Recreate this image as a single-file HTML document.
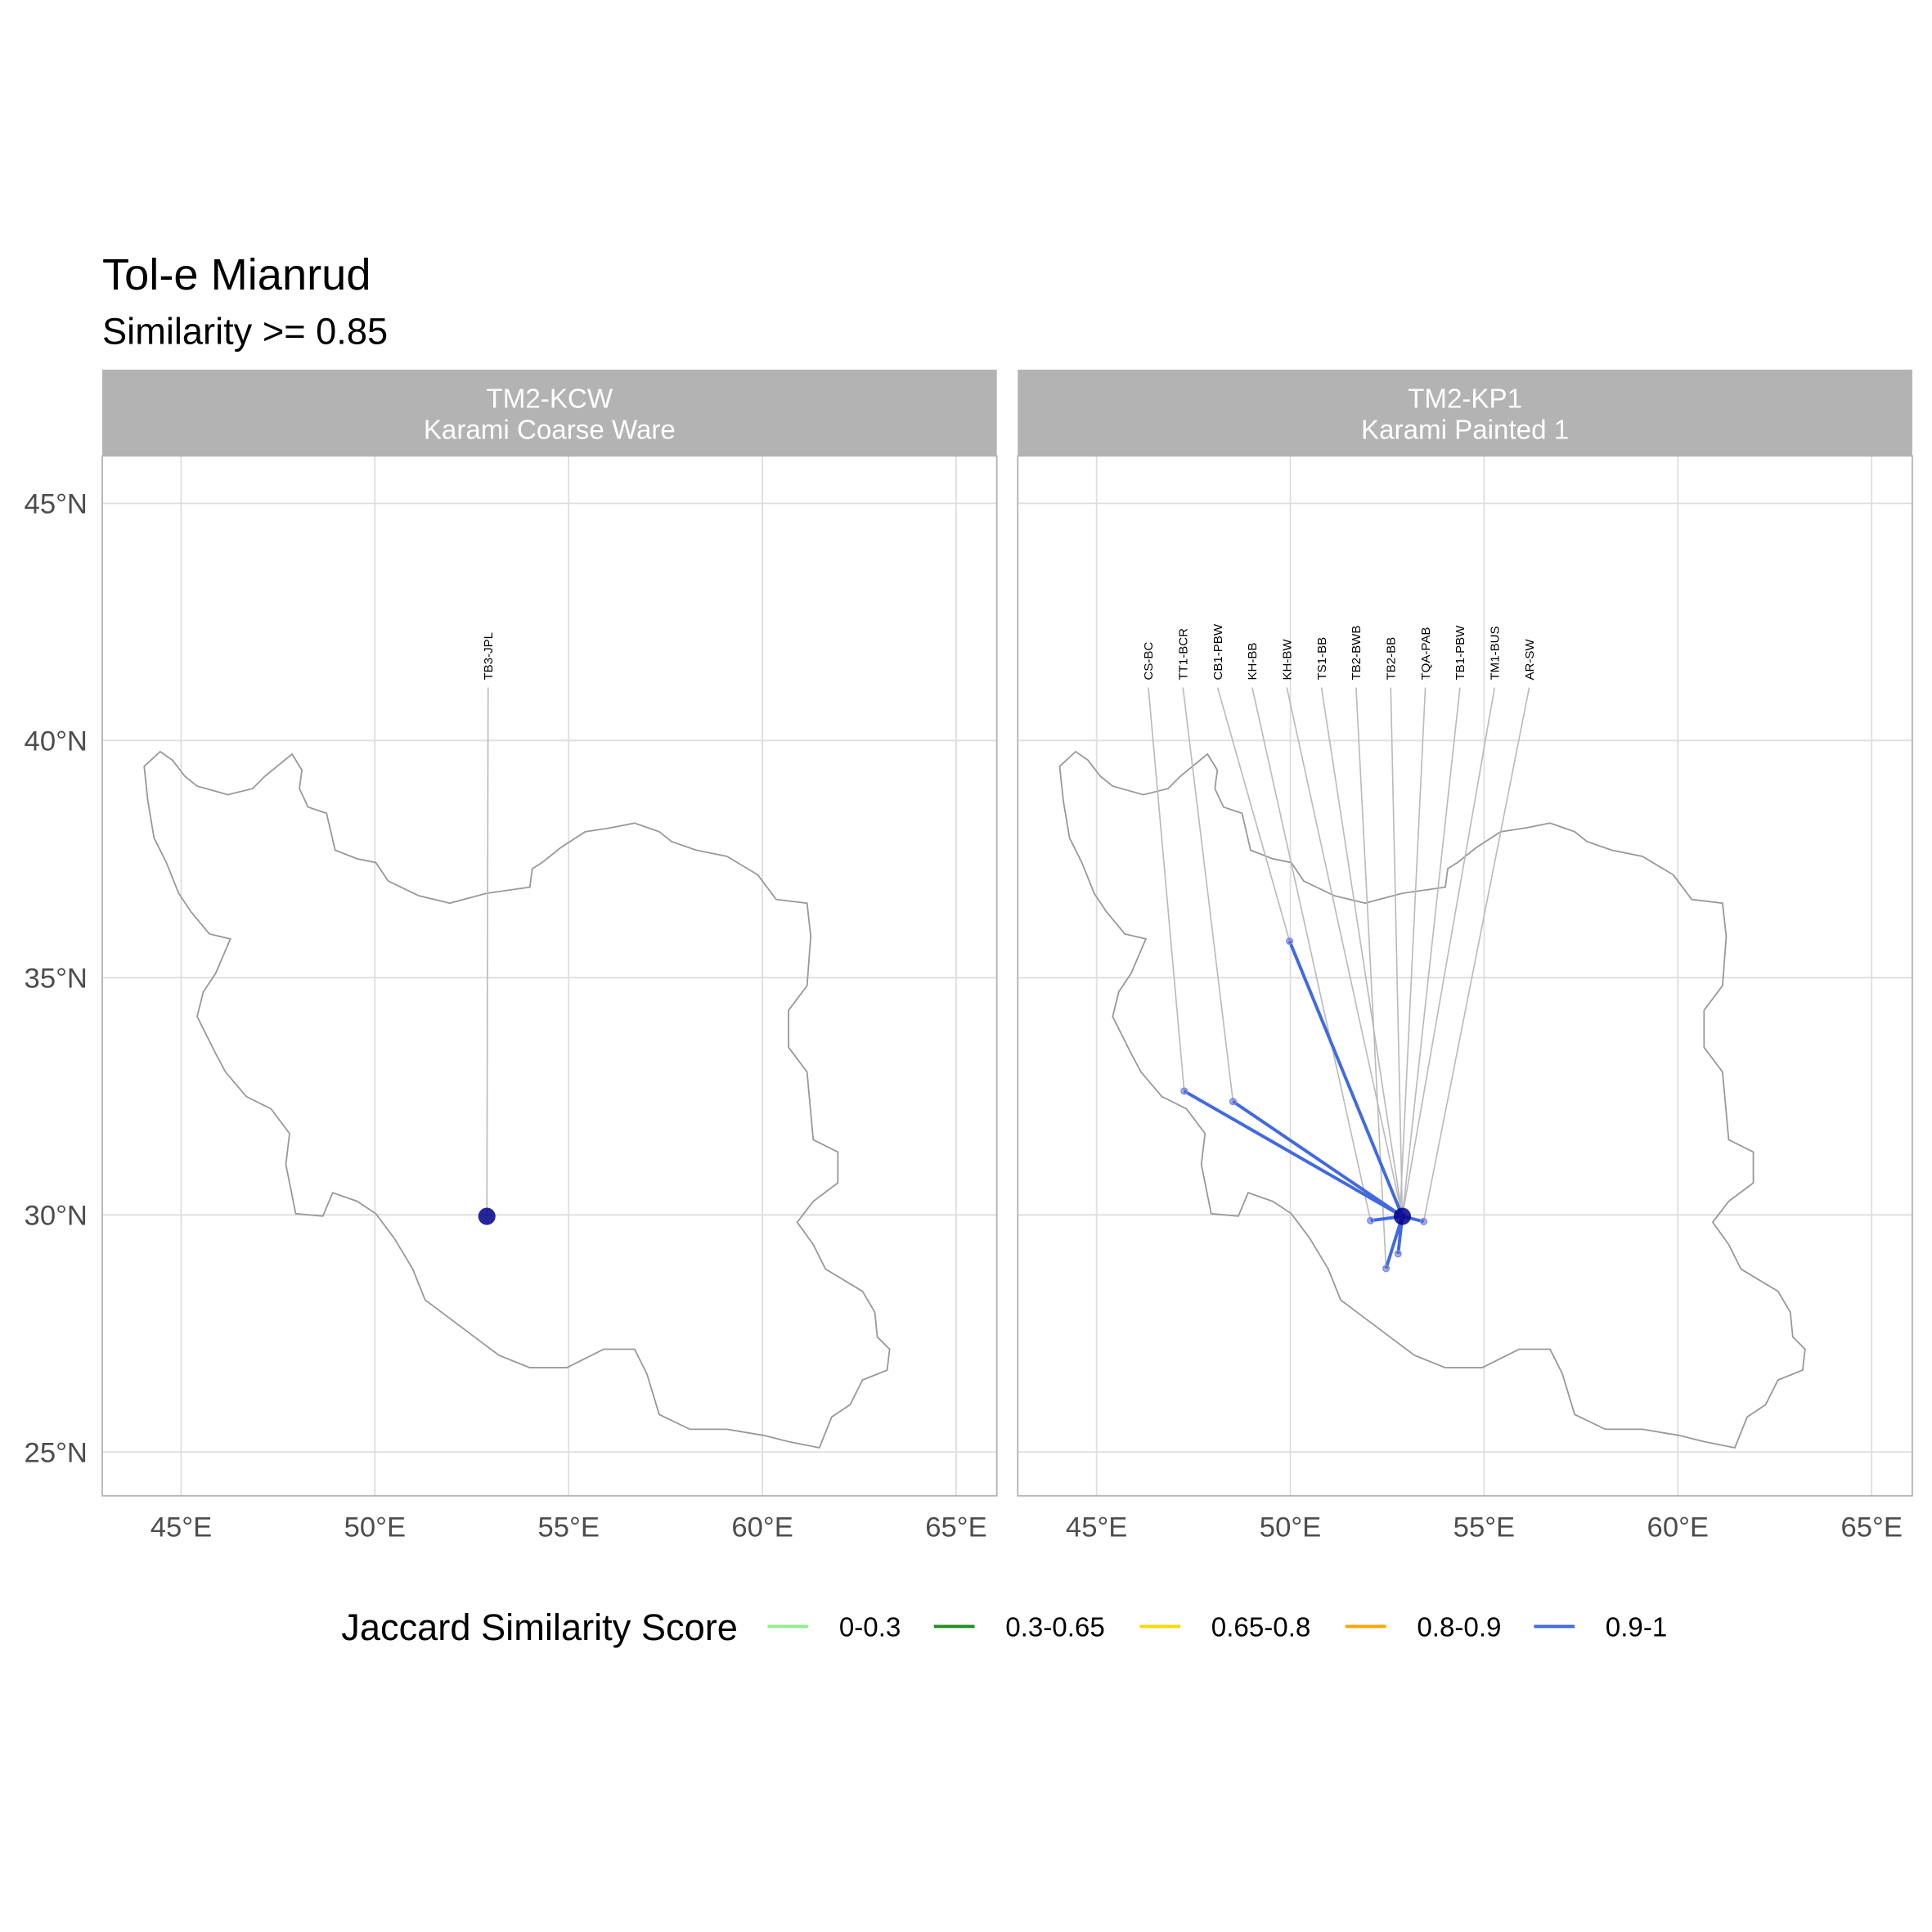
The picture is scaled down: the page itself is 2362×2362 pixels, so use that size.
<!DOCTYPE html>
<html><head><meta charset="utf-8"><style>
html,body{margin:0;padding:0;background:#fff}
svg{display:block;font-family:"Liberation Sans",sans-serif}
</style></head><body>
<svg id="chart" width="2362" height="2362" viewBox="0 0 1568 1568" xmlns="http://www.w3.org/2000/svg">
<rect width="1568" height="1568" fill="#fff"/>
<text x="83" y="235" font-size="36" fill="#000">Tol-e Mianrud</text>
<text x="83" y="279" font-size="30" fill="#000">Similarity &gt;= 0.85</text>
<g id="panels"></g>
<g>
<text x="277" y="1331" font-size="30" fill="#000">Jaccard Similarity Score</text>
<g id="legend-keys"></g>
</g>
</svg>
<script>
const lonTicks=[45,50,55,60,65];
const latTicks=[25,30,35,40,45];
const lonLabels=["45°E","50°E","55°E","60°E","65°E"];
const latLabels=["25°N","30°N","35°N","40°N","45°N"];
const panelCodes=["TM2-KCW","TM2-KP1"];
const panelNames=["Karami Coarse Ware","Karami Painted 1"];
const focalLon=52.89, focalLat=29.97;
// panel 1 sites
const p1Labels=["TB3-JPL"];
const p1Lon=[52.89];
const p1Lat=[29.97];
// panel 2 sites
const p2Labels=["CS-BC","TT1-BCR","CB1-PBW","KH-BB","KH-BW","TS1-BB","TB2-BWB","TB2-BB","TQA-PAB","TB1-PBW","TM1-BUS","AR-SW"];
const p2Lon=[47.26,48.52,49.98,52.07,52.89,52.89,52.47,52.89,52.78,52.89,52.89,53.44];
const p2Lat=[32.61,32.39,35.77,29.88,29.97,29.97,28.87,29.97,29.18,29.97,29.97,29.86];
const legendLabels=["0-0.3","0.3-0.65","0.65-0.8","0.8-0.9","0.9-1"];
const legendColors=["#90EE90","#228B22","#FFD700","#FFA500","#4169E1"];

const NS="http://www.w3.org/2000/svg";
function mk(tag,attrs,parent){const e=document.createElementNS(NS,tag);for(const k in attrs)e.setAttribute(k,attrs[k]);parent.appendChild(e);return e;}
const outline="M117,622 L130,610 L140,617 L150,630 L160,638 L185,645 L205,640 L215,630 L237,612 L245,625 L243,640 L250,655 L265,660 L272,690 L290,697 L305,700 L315,715 L340,727 L365,733 L395,725 L430,720 L432,705 L440,700 L455,688 L475,675 L495,672 L515,668 L535,675 L545,683 L565,690 L590,695 L615,710 L630,730 L655,733 L658,760 L655,800 L640,820 L640,850 L655,870 L660,925 L680,935 L680,960 L660,975 L647,992 L660,1010 L670,1030 L700,1048 L710,1065 L712,1085 L722,1095 L720,1112 L700,1120 L690,1140 L675,1150 L665,1175 L640,1170 L620,1165 L590,1160 L560,1160 L535,1148 L525,1115 L515,1095 L490,1095 L460,1110 L430,1110 L405,1100 L385,1085 L365,1070 L345,1055 L335,1030 L320,1005 L305,985 L290,975 L270,968 L262,987 L240,985 L232,945 L235,920 L220,900 L200,890 L183,870 L175,855 L160,825 L165,805 L175,790 L187,762 L170,758 L155,740 L145,725 L135,700 L125,680 L120,650 Z";
const panels=document.getElementById('panels');
const panelX=[83,826], panelW=726, panelTop=370, panelBottom=1214;
function yScale(lat){return 986-(lat-30)*38.5;}
for(let p=0;p<2;p++){
  const ox=panelX[p];
  const xScale=lon=>ox+64+(lon-45)*31.45;
  const g=mk('g',{},panels);
  
  
  const strip=mk('rect',{x:ox,y:300,width:panelW,height:70,fill:'#b3b3b3'},g);
  
  
  const t1=mk('text',{x:ox+panelW/2,y:331,'font-size':22,fill:'#fff','text-anchor':'middle'},g);t1.textContent=panelCodes[p];
  
  
  const t2=mk('text',{x:ox+panelW/2,y:356,'font-size':22,fill:'#fff','text-anchor':'middle'},g);t2.textContent=panelNames[p];
  
  
  lonTicks.forEach((v,i)=>{const x=xScale(v);
    const l=mk('line',{x1:x,x2:x,y1:panelTop,y2:panelBottom,stroke:'#dedede','stroke-width':1.2},g);
    
    
    const tl=mk('text',{x:x,y:1247,'font-size':23,fill:'#4d4d4d','text-anchor':'middle'},g);tl.textContent=lonLabels[i];
    
    });
  latTicks.forEach((v,i)=>{const y=yScale(v);
    const l=mk('line',{x1:ox,x2:ox+panelW,y1:y,y2:y,stroke:'#dedede','stroke-width':1.2},g);
    
    
    if(p===0){const tl=mk('text',{x:71,y:y+8,'font-size':23,fill:'#4d4d4d','text-anchor':'end'},g);tl.textContent=latLabels[i];
      
      }});
  const border=mk('rect',{x:ox,y:panelTop,width:panelW,height:panelBottom-panelTop,fill:'none',stroke:'#b3b3b3','stroke-width':1.2},g);
  
  
  const map=mk('path',{d:outline,fill:'none',stroke:'#999','stroke-width':1.2,transform:'translate('+(ox-83)+',0)'},g);
  
  
  const labels=p===0?p1Labels:p2Labels, lons=p===0?p1Lon:p2Lon, lats=p===0?p1Lat:p2Lat;
  const n=labels.length;
  const fx=xScale(focalLon), fy=yScale(focalLat);
  for(let i=0;i<n;i++){
    const lx=p===0?xScale(focalLon)+1:ox+106+i*28.1;
    const px=xScale(lons[i]), py=yScale(lats[i]);
    const ln=mk('line',{x1:lx,y1:558,x2:px,y2:py,stroke:'#bbb','stroke-width':1.1},g);
    
    
    const tx=mk('text',{x:lx+3.5,y:552,'font-size':10,fill:'#000','text-anchor':'start',transform:'rotate(-90 '+(lx+3.5)+' 552)'},g);
    tx.textContent=labels[i];
    
    
  }
  for(let i=0;i<n;i++){
    const px=xScale(lons[i]), py=yScale(lats[i]);
    if(p===1){
      const e=mk('line',{x1:fx,y1:fy,x2:px,y2:py,stroke:'#4169E1','stroke-width':2.6},g);
      
      
      const c=mk('circle',{cx:px,cy:py,r:2.5,fill:'#4169E1','fill-opacity':0.5,stroke:'#8888dd','stroke-width':1},g);
      
      
    }
  }
  const f=mk('circle',{cx:fx,cy:fy,r:7,fill:'#00008B','fill-opacity':0.85},g);
  
  
}
const lk=document.getElementById('legend-keys');
const keyX=[623,758,925,1092,1245];
legendLabels.forEach((lab,i)=>{
  const l=mk('line',{x1:keyX[i],x2:keyX[i]+33,y1:1320,y2:1320,stroke:legendColors[i],'stroke-width':2.6},lk);
  
  
  const t=mk('text',{x:keyX[i]+58,y:1328,'font-size':22,fill:'#000'},lk);t.textContent=lab;
  
  
});
</script>
</body></html>
